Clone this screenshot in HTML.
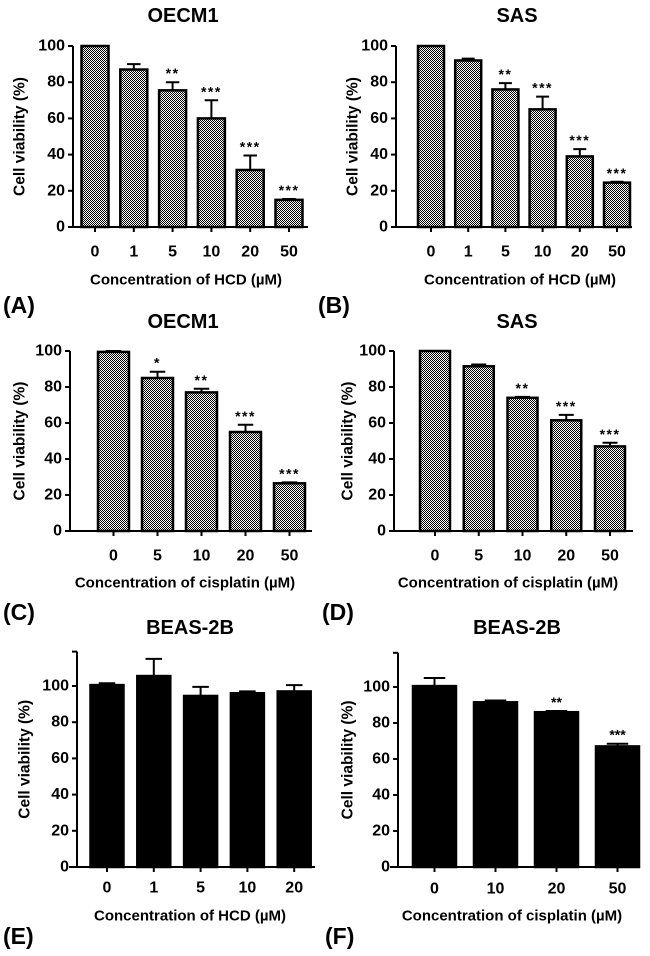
<!DOCTYPE html>
<html><head><meta charset="utf-8"><style>
html,body{margin:0;padding:0;background:#fff}
svg{display:block}
text{font-family:"Liberation Sans",Arial,sans-serif;font-weight:bold;fill:#000}
</style></head><body>
<svg id="fig" width="650" height="956" viewBox="0 0 650 956" xmlns="http://www.w3.org/2000/svg">
<defs>
<pattern id="chk" width="2" height="2" patternUnits="userSpaceOnUse">
<rect width="2" height="2" fill="#fff"/><rect width="1" height="1" fill="#000"/><rect x="1" y="1" width="1" height="1" fill="#000"/>
</pattern>
</defs>
</svg>
<script>
// Panel A
const catsA=['0','1','5','10','20','50'];
const valsA=[100,87,75.5,60,31.5,15];
const errA=[100,90,80,70,39.5,15.5];
const starsA=['','','**','***','***','***'];
// Panel B
const catsB=['0','1','5','10','20','50'];
const valsB=[100,92,76,65,39,24.5];
const errB=[100,93,79.5,72,43,25];
const starsB=['','','**','***','***','***'];
// Panel C
const catsC=['0','5','10','20','50'];
const valsC=[99.5,85,77,55,26.5];
const errC=[100,88.5,79,59,27];
const starsC=['','*','**','***','***'];
// Panel D
const catsD=['0','5','10','20','50'];
const valsD=[100,91.5,74,61.5,47];
const errD=[100,92.5,74.5,64.5,49];
const starsD=['','','**','***','***'];
// Panel E
const catsE=['0','1','5','10','20'];
const valsE=[100.5,105.5,94.5,96,97];
const errE=[101.5,115,99.5,97,100.5];
const starsE=['','','','',''];
// Panel F
const catsF=['0','10','20','50'];
const valsF=[100.5,91.5,86,67];
const errF=[105,92.5,86.7,68.5];
const starsF=['','','**','***'];
const yTicks=[0,20,40,60,80,100];

const NS='http://www.w3.org/2000/svg';
const svg=document.getElementById('fig');
function mk(tag,attrs,parent,txt){const e=document.createElementNS(NS,tag);for(const k in attrs)e.setAttribute(k,attrs[k]);if(txt!==undefined)e.textContent=txt;(parent||svg).appendChild(e);return e;}

function panel(p){
  const g=mk('g',{});
  
  
  const ys=v=>p.y0-(p.y0-p.y100)*v/100;
  const xs=i=>p.x0+i*p.step;
  const t=mk('text',{x:p.tx,y:p.ty,'text-anchor':'middle','dominant-baseline':'central','font-size':20},g,p.title);
  
  
  p.vals.forEach((v,i)=>{
    const cx=xs(i);
    const e=p.err[i];
    if(e>v){
      const eb=mk('path',{d:`M${cx} ${ys(v)}V${ys(e)}M${cx-p.bw/4} ${ys(e)}H${cx+p.bw/4}`,stroke:'#000','stroke-width':2,fill:'none'},g);
      
      
    }
    const r=mk('rect',{x:cx-p.bw/2,y:ys(v),width:p.bw,height:p.y0-ys(v),fill:p.solid?'#000':'url(#chk)',stroke:'#000','stroke-width':2.5},g);
    
    
    if(p.stars[i]){
      const s=mk('text',{x:cx,y:ys(Math.max(e,v))-9,'text-anchor':'middle','dominant-baseline':'central','font-size':14,'letter-spacing':p.solid?0:1.5},g,p.stars[i]);
      
      
    }
    const tk=mk('line',{x1:cx,x2:cx,y1:p.y0,y2:p.y0+5,stroke:'#000','stroke-width':2},g);
    
    
    const tl=mk('text',{x:cx,y:p.tly,'text-anchor':'middle','dominant-baseline':'central','font-size':16},g,p.cats[i]);
    
    
  });
  const top=p.ytop!==undefined?ys(p.ytop):ys(100);
  const ax=mk('path',{d:`M${p.ax} ${top}V${p.y0}M${p.ax-(p.solid?8:0)} ${p.y0}H${p.xEnd}`,stroke:'#000','stroke-width':2,fill:'none'},g);
  
  
  yTicks.forEach(v=>{
    const l=mk('line',{x1:p.ax-5,x2:p.ax,y1:ys(v),y2:ys(v),stroke:'#000','stroke-width':2},g);
    
    
    const tl=mk('text',{x:p.ax-8,y:ys(v),'text-anchor':'end','dominant-baseline':'central','font-size':16},g,String(v));
    
    
  });
  if(p.ytop!==undefined){
    const l=mk('line',{x1:p.ax-5,x2:p.ax,y1:top,y2:top,stroke:'#000','stroke-width':2},g);
    
    
  }
  const yc=(top+p.y0)/2;
  const yt=mk('text',{x:p.ylx,y:yc,'text-anchor':'middle','dominant-baseline':'central','font-size':15.5,transform:`rotate(-90 ${p.ylx} ${yc})`},g,'Cell viability (%)');
  
  
  const xt=mk('text',{x:p.xtx,y:p.xty,'text-anchor':'middle','dominant-baseline':'central','font-size':15},g,p.xtitle);
  
  
  const pl=mk('text',{x:p.lx,y:p.ly,'dominant-baseline':'central','font-size':23},g,'('+p.id+')');
  
  
}
const hcd='Concentration of HCD (\u00b5M)', cis='Concentration of cisplatin (\u00b5M)';
panel({id:'A',title:'OECM1',cats:catsA,vals:valsA,err:errA,stars:starsA,ax:73,y0:227,y100:46,xEnd:308,x0:95,step:38.8,bw:27,tx:183,ty:16,tly:252,ylx:20,xtx:186,xty:280,xtitle:hcd,lx:3,ly:305});
panel({id:'B',title:'SAS',cats:catsB,vals:valsB,err:errB,stars:starsB,ax:396,y0:227,y100:46,xEnd:632,x0:431,step:37.2,bw:26,tx:517,ty:16,tly:252,ylx:353,xtx:520,xty:280,xtitle:hcd,lx:318,ly:305});
panel({id:'C',title:'OECM1',cats:catsC,vals:valsC,err:errC,stars:starsC,ax:70,y0:531,y100:351,xEnd:312,x0:113.5,step:44,bw:31,tx:183,ty:322,tly:556,ylx:20,xtx:185,xty:583,xtitle:cis,lx:3,ly:612});
panel({id:'D',title:'SAS',cats:catsD,vals:valsD,err:errD,stars:starsD,ax:394,y0:531,y100:351,xEnd:633,x0:435,step:43.75,bw:30,tx:517,ty:322,tly:556,ylx:348,xtx:508,xty:583,xtitle:cis,lx:322,ly:612});
panel({id:'E',title:'BEAS-2B',cats:catsE,vals:valsE,err:errE,stars:starsE,solid:true,ytop:119,ax:77,y0:867,y100:686,xEnd:315,x0:107,step:46.8,bw:33,tx:190,ty:628,tly:888,ylx:25,xtx:190,xty:916,xtitle:hcd,lx:3,ly:936});
panel({id:'F',title:'BEAS-2B',cats:catsF,vals:valsF,err:errF,stars:starsF,solid:true,ytop:119,ax:398,y0:867,y100:687,xEnd:633,x0:434.5,step:61,bw:43,tx:517,ty:628,tly:889,ylx:348,xtx:512,xty:916,xtitle:cis,lx:325,ly:936});
</script>
</body></html>
